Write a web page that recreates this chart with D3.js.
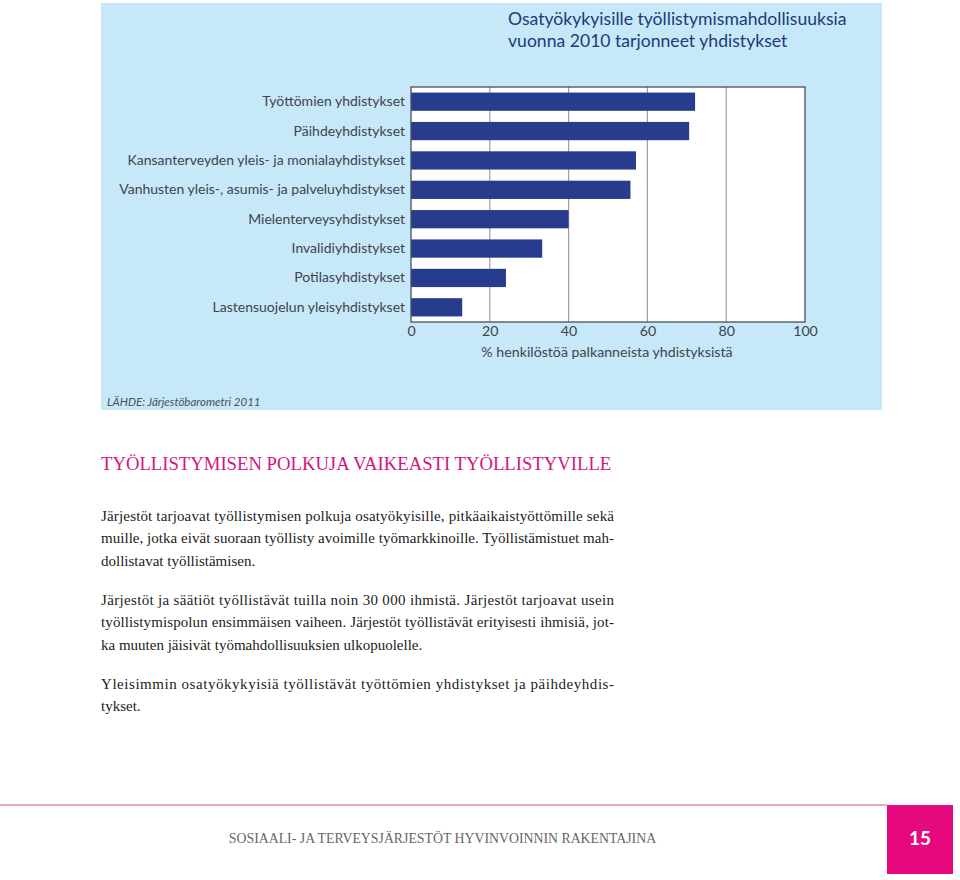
<!DOCTYPE html>
<html>
<head>
<meta charset="utf-8">
<script src="https://cdn.jsdelivr.net/npm/d3@7"></script>
<style>
  html, body { margin: 0; padding: 0; background: #fff; }
  svg { display: block; }
</style>
</head>
<body>
<svg id="chart" width="960" height="880"></svg>
<script>
const categories = [
  "Työttömien yhdistykset",
  "Päihdeyhdistykset",
  "Kansanterveyden yleis- ja monialayhdistykset",
  "Vanhusten yleis-, asumis- ja palveluyhdistykset",
  "Mielenterveysyhdistykset",
  "Invalidiyhdistykset",
  "Potilasyhdistykset",
  "Lastensuojelun yleisyhdistykset"
];
const values = [72.1, 70.6, 57.1, 55.7, 40.0, 33.3, 24.1, 13.0];
const tickValues = [0, 20, 40, 60, 80, 100];
const titleLines = ["Osatyökykyisille työllistymismahdollisuuksia", "vuonna 2010 tarjonneet yhdistykset"];
const axisTitle = "% henkilöstöä palkanneista yhdistyksistä";
const sourceText = "LÄHDE: Järjestöbarometri 2011";
const heading = "TYÖLLISTYMISEN POLKUJA VAIKEASTI TYÖLLISTYVILLE";
const paragraphs = [
  ["Järjestöt tarjoavat työllistymisen polkuja osatyökyisille, pitkäaikaistyöttömille sekä",
   "muille, jotka eivät suoraan työllisty avoimille työmarkkinoille. Työllistämistuet mah-",
   "dollistavat työllistämisen."],
  ["Järjestöt ja säätiöt työllistävät tuilla noin 30 000 ihmistä. Järjestöt tarjoavat usein",
   "työllistymispolun ensimmäisen vaiheen. Järjestöt työllistävät erityisesti ihmisiä, jot-",
   "ka muuten jäisivät työmahdollisuuksien ulkopuolelle."],
  ["Yleisimmin osatyökykyisiä työllistävät työttömien yhdistykset ja päihdeyhdis-",
   "tykset."]
];
const footerText = "SOSIAALI- JA TERVEYSJÄRJESTÖT HYVINVOINNIN RAKENTAJINA";
const pageNumber = "15";

const svg = d3.select("#chart");
const sans = "Lato, 'Open Sans', sans-serif";
const serif = "'Liberation Serif', 'DejaVu Serif', serif";

// panel
svg.append("rect").attr("x", 101).attr("y", 3).attr("width", 781).attr("height", 407)
  .attr("fill", "#c7e8f8");

// title
const t = svg.append("text").attr("x", 508).attr("y", 25)
  .attr("font-family", sans).attr("font-size", 17.6).attr("fill", "#1e3a78");
titleLines.forEach((l, i) => t.append("tspan").attr("x", 508).attr("y", 25 + i * 22).text(l));

// plot
const pLeft = 411, pRight = 805, pTop = 87, pBottom = 322;
const x = d3.scaleLinear().domain([0, 100]).range([pLeft, pRight]);
const y = d3.scaleBand().domain(categories).range([pTop, pBottom]).paddingInner(0.378).paddingOuter(0.189);

svg.append("rect").attr("x", pLeft).attr("y", pTop).attr("width", pRight - pLeft).attr("height", pBottom - pTop)
  .attr("fill", "#fff");

svg.append("g").selectAll("line").data(tickValues.slice(1, -1)).join("line")
  .attr("x1", d => x(d)).attr("x2", d => x(d)).attr("y1", pTop).attr("y2", pBottom)
  .attr("stroke", "#a0a0a0").attr("stroke-width", 1.2);

svg.append("g").selectAll("rect").data(values).join("rect")
  .attr("x", x(0)).attr("y", (d, i) => y(categories[i]))
  .attr("width", d => x(d) - x(0)).attr("height", y.bandwidth())
  .attr("fill", "#283c8e");

svg.append("rect").attr("x", pLeft).attr("y", pTop).attr("width", pRight - pLeft).attr("height", pBottom - pTop)
  .attr("fill", "none").attr("stroke", "#4a4f5a").attr("stroke-width", 1.3);

// y labels
svg.append("g").attr("transform", `translate(${pLeft},0)`)
  .call(d3.axisLeft(y).tickSize(0).tickPadding(6))
  .call(g => g.select(".domain").remove())
  .call(g => g.selectAll("text").attr("font-family", sans).attr("font-size", 14).attr("fill", "#40444e"));

// x axis
svg.append("g").attr("transform", `translate(0,${pBottom})`)
  .call(d3.axisBottom(x).tickValues(tickValues).tickSize(0).tickPadding(4))
  .call(g => g.select(".domain").remove())
  .call(g => g.selectAll("text").attr("font-family", sans).attr("font-size", 14.2).attr("fill", "#40444e"));

svg.append("text").attr("x", 607).attr("y", 357).attr("text-anchor", "middle")
  .attr("font-family", sans).attr("font-size", 14.2).attr("fill", "#40444e").text(axisTitle);

svg.append("text").attr("x", 107).attr("y", 406)
  .attr("font-family", sans).attr("font-size", 11.5).attr("font-style", "italic").attr("fill", "#4a4f5a")
  .text(sourceText);

// heading
svg.append("text").attr("x", 101).attr("y", 470)
  .attr("font-family", serif).attr("font-size", 18.7).attr("fill", "#d4157f").text(heading);

// body
const baselines = [[521, 543, 566], [605, 627, 650], [689, 711]];
paragraphs.forEach((p, pi) => {
  p.forEach((line, li) => {
    const last = li === p.length - 1;
    const el = svg.append("text").attr("x", 101).attr("y", baselines[pi][li])
      .attr("font-family", serif).attr("font-size", 15).attr("fill", "#222").text(line);
    if (!last) el.attr("textLength", 513).attr("lengthAdjust", "spacing");
  });
});

// footer
svg.append("line").attr("x1", 0).attr("x2", 887).attr("y1", 805).attr("y2", 805)
  .attr("stroke", "#e6a9c9").attr("stroke-width", 2);
svg.append("rect").attr("x", 887).attr("y", 805).attr("width", 66).attr("height", 69).attr("fill", "#e5087f");
svg.append("text").attr("x", 920).attr("y", 845).attr("text-anchor", "middle")
  .attr("font-family", sans).attr("font-weight", "bold").attr("font-size", 19).attr("fill", "#fff").text(pageNumber);
svg.append("text").attr("x", 442.5).attr("y", 843).attr("text-anchor", "middle")
  .attr("font-family", serif).attr("font-size", 13.8).attr("fill", "#666").text(footerText);
</script>
</body>
</html>
